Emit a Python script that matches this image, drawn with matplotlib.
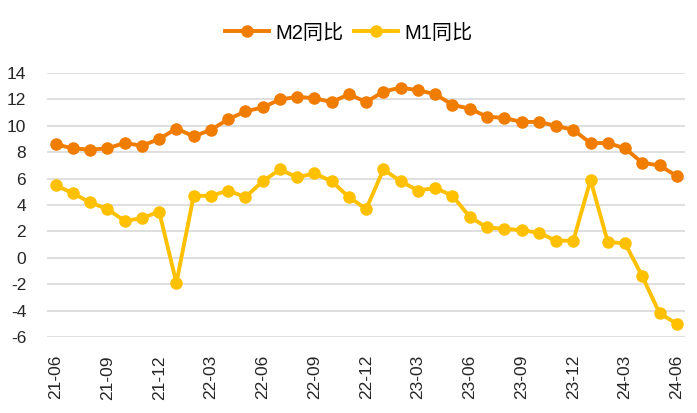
import matplotlib
matplotlib.use("Agg")
import matplotlib.pyplot as plt

plt.rcParams['font.family'] = ['Liberation Sans', 'Noto Sans CJK SC', 'DejaVu Sans']
plt.rcParams['axes.unicode_minus'] = False

# monthly data 2021-06 .. 2024-06
months = ['21-06', '21-07', '21-08', '21-09', '21-10', '21-11', '21-12',
          '22-01', '22-02', '22-03', '22-04', '22-05', '22-06', '22-07',
          '22-08', '22-09', '22-10', '22-11', '22-12', '23-01', '23-02',
          '23-03', '23-04', '23-05', '23-06', '23-07', '23-08', '23-09',
          '23-10', '23-11', '23-12', '24-01', '24-02', '24-03', '24-04',
          '24-05', '24-06']
m2 = [8.6, 8.3, 8.2, 8.3, 8.7, 8.5, 9.0, 9.8, 9.2, 9.7, 10.5, 11.1, 11.4,
      12.0, 12.2, 12.1, 11.8, 12.4, 11.8, 12.6, 12.9, 12.7, 12.4, 11.6,
      11.3, 10.7, 10.6, 10.3, 10.3, 10.0, 9.7, 8.7, 8.7, 8.3, 7.2, 7.0, 6.2]
m1 = [5.5, 4.9, 4.2, 3.7, 2.8, 3.0, 3.5, -1.9, 4.7, 4.7, 5.1, 4.6, 5.8,
      6.7, 6.1, 6.4, 5.8, 4.6, 3.7, 6.7, 5.8, 5.1, 5.3, 4.7, 3.1, 2.3,
      2.2, 2.1, 1.9, 1.3, 1.3, 5.9, 1.2, 1.1, -1.4, -4.2, -5.0]

fig = plt.figure(figsize=(6.97, 4.13), dpi=100)
ax = fig.add_axes([0.0674, 0.184, 0.916, 0.639])

x = list(range(len(months)))
ax.plot(x, m2, color='#F07C00', lw=2.8, marker='o', ms=8, label='M2同比')
ax.plot(x, m1, color='#FFC000', lw=2.8, marker='o', ms=8, label='M1同比')

ax.set_ylim(-6, 14)
ax.set_yticks(range(-6, 15, 2))
ax.set_xlim(-0.5, len(months) - 0.5)
ax.set_xticks(x[::3])
ax.set_xticklabels(months[::3], rotation=90)
ax.tick_params(axis='both', length=0, labelsize=12.5, colors='#262626')
ax.tick_params(axis='x', pad=13)
ax.tick_params(axis='y', pad=15)
ax.grid(axis='y', color='#D9D9D9', lw=1.2)
ax.set_axisbelow(True)
for s in ax.spines.values():
    s.set_visible(False)

fig.legend(loc='center', bbox_to_anchor=(0.5, 0.92), ncol=2, frameon=False,
           fontsize=14.5, handlelength=2.2, columnspacing=0.5, handletextpad=0.3)

fig.savefig('out.png', dpi=100)
